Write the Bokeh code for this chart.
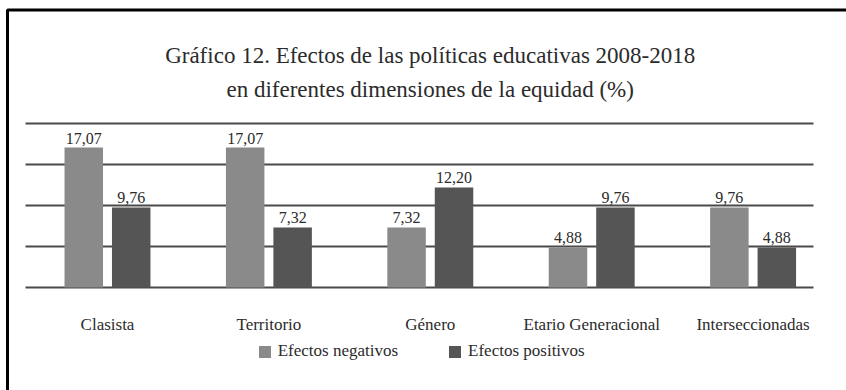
import numpy as np
from bokeh.plotting import figure
from bokeh.models import ColumnDataSource, Range1d, Legend, LegendItem, Label
from bokeh.transform import dodge
from bokeh.core.properties import value
from bokeh.embed import file_html
from bokeh.resources import INLINE

# ---- data ----
categories = ["Clasista", "Territorio", "Género", "Etario Generacional", "Interseccionadas"]
negativos = [17.07, 17.07, 7.32, 4.88, 9.76]
positivos = [9.76, 7.32, 12.20, 9.76, 4.88]
series_names = ["Efectos negativos", "Efectos positivos"]
y_ticks = [0, 5, 10, 15, 20]
title_lines = ["Gráfico 12. Efectos de las políticas educativas 2008-2018",
               "en diferentes dimensiones de la equidad (%)"]

# ---- layout constants (pixels) ----
W, H = 846, 390
PL, PR = 25, 813          # plotting area left/right
PX_CAT0, PX_PER_CAT = 107.0, 161.4
PX_Y0, PX_PER_UNIT = 287.0, 8.2
FONT = "Liberation Serif"
TXT = "#2b2b2b"
C_NEG = "#8a8a8a"
C_POS = "#555555"

# data ranges so that the frame covers the whole canvas
X0 = -PX_CAT0 / PX_PER_CAT
X1 = X0 + W / PX_PER_CAT
Y1 = PX_Y0 / PX_PER_UNIT
Y0 = Y1 - H / PX_PER_UNIT


def xd(px):
    return X0 + px / PX_PER_CAT


def yd(py):
    return Y1 - py / PX_PER_UNIT


p = figure(width=W, height=H, output_backend="svg", toolbar_location=None,
           x_range=Range1d(X0, X1), y_range=Range1d(Y0, Y1),
           min_border=0, min_border_left=0, min_border_right=0,
           min_border_top=0, min_border_bottom=0)
p.title.visible = False
p.xaxis.visible = False
p.yaxis.visible = False
p.xgrid.visible = False
p.ygrid.visible = False
p.outline_line_color = None
p.background_fill_color = "white"
p.border_fill_color = "white"

pos_x = list(range(len(categories)))
fmt = lambda v: f"{v:.2f}".replace(".", ",")
src = ColumnDataSource(dict(x=pos_x, cat=categories, zero=[0] * len(categories),
                            neg=negativos, pos=positivos,
                            neg_t=[fmt(v) for v in negativos],
                            pos_t=[fmt(v) for v in positivos]))

# outer frame: top and left black border
p.line(x=[xd(7), xd(7), xd(W + 20)], y=[yd(H + 20), yd(9.5), yd(9.5)],
       line_color="black", line_width=3)

# horizontal grid lines at the tick values
p.segment(x0=xd(PL), x1=xd(PR), y0=y_ticks, y1=y_ticks,
          line_color="#4a4a4a", line_width=2)

off = 0.147
bw = 0.2385
r_neg = p.vbar(x=dodge("x", -off, range=p.x_range), top="neg", width=bw, source=src,
               fill_color=C_NEG, line_color=None)
r_pos = p.vbar(x=dodge("x", off, range=p.x_range), top="pos", width=bw, source=src,
               fill_color=C_POS, line_color=None)

for key, sh in (("neg", -off), ("pos", off)):
    p.text(x=dodge("x", sh, range=p.x_range), y=key, text=key + "_t", source=src,
           text_align="center", text_baseline="bottom", y_offset=-4,
           text_font=value(FONT), text_font_size="16px", text_color=TXT)

# category labels (x axis)
p.text(x="x", y="zero", text="cat", source=src, text_align="center",
       text_baseline="alphabetic", y_offset=37,
       text_font=value(FONT), text_font_size="17px", text_color=TXT)

# legend
legend = Legend(items=[LegendItem(label=series_names[0], renderers=[r_neg]),
                       LegendItem(label=series_names[1], renderers=[r_pos])],
                orientation="horizontal", location=(256.7, H - 361),
                glyph_width=15, glyph_height=15, label_height=15,
                label_standoff=6, spacing=49, padding=0, margin=0,
                label_text_font=FONT, label_text_font_size="17px",
                label_text_color=TXT, border_line_color=None,
                background_fill_alpha=0)
p.add_layout(legend)

# title
for line, base in zip(title_lines, (55, 89)):
    p.add_layout(Label(x=xd(429.7), y=yd(base), text=line, text_align="center",
                       text_baseline="alphabetic", text_font=FONT,
                       text_font_size="23px", text_color=TXT))

open("out.html", "w").write(file_html(p, INLINE))
